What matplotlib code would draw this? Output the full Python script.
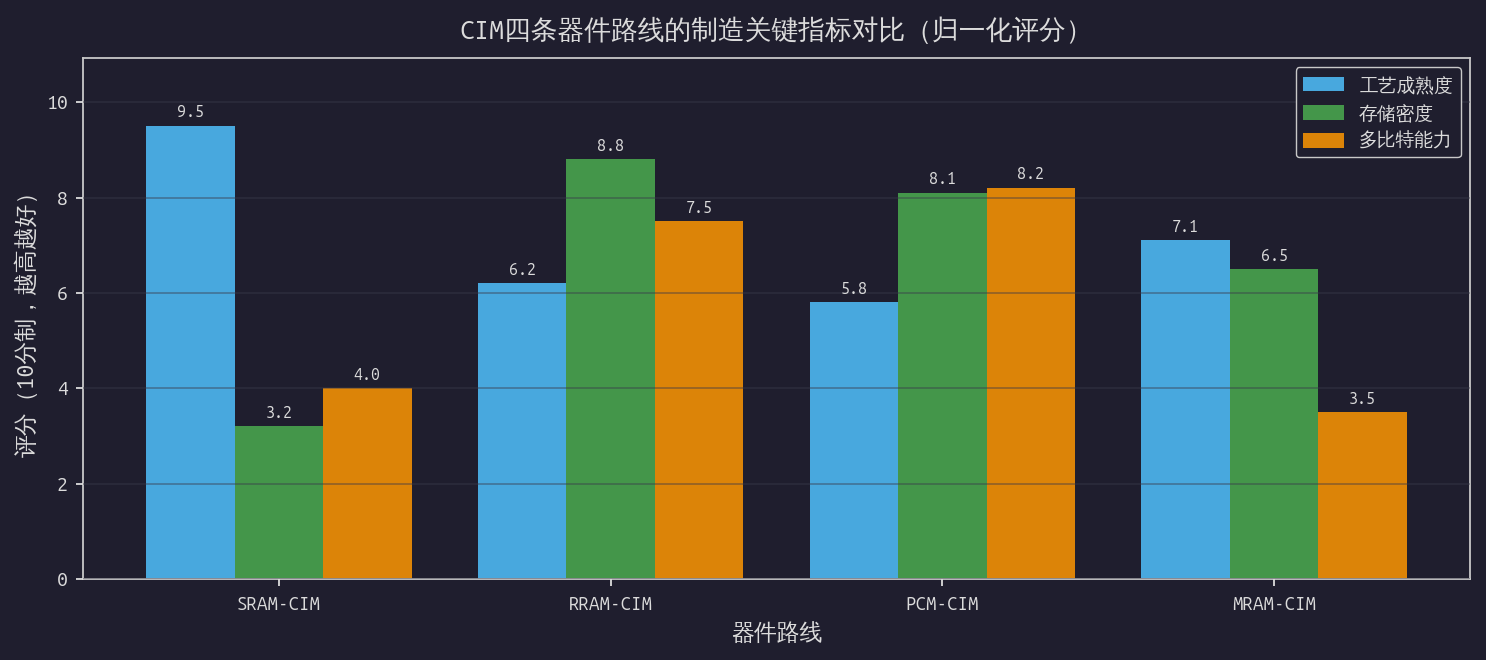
import matplotlib
matplotlib.use("Agg")
import matplotlib.pyplot as plt
import numpy as np

plt.rcParams['font.family'] = ['Ubuntu Mono', 'WenQuanYi Zen Hei', 'DejaVu Sans']
plt.rcParams['axes.unicode_minus'] = False

categories = ["SRAM-CIM", "RRAM-CIM", "PCM-CIM", "MRAM-CIM"]
series_names = ["工艺成熟度", "存储密度", "多比特能力"]
maturity = [9.5, 6.2, 5.8, 7.1]
density = [3.2, 8.8, 8.1, 6.5]
multibit = [4.0, 7.5, 8.2, 3.5]
colors = ["#48a8de", "#44964a", "#dc8408"]

bg = "#1f1e2e"
txt = "#dcdcdc"

fig = plt.figure(figsize=(14.86, 6.6), dpi=100, facecolor=bg)
ax = fig.add_axes([0.0559, 0.1227, 0.9333, 0.7893], facecolor=bg)

x = np.arange(len(categories))
w = 0.8 / 3
for i, (vals, name, c) in enumerate(zip([maturity, density, multibit], series_names, colors)):
    bars = ax.bar(x + (i - 1) * w, vals, w, label=name, color=c, zorder=1)
    for b, v in zip(bars, vals):
        ax.annotate(f"{v:.1f}", (b.get_x() + b.get_width() / 2, v), xytext=(0, 4),
                    textcoords="offset points", ha="center", va="bottom", fontsize=11.5, color=txt)

ax.set_ylim(0, 10.925)
ax.set_xticks(x)
ax.set_xticklabels(categories)
ax.grid(axis="y", color="#3a3a4a", alpha=0.45, linewidth=1.3, zorder=2)
ax.set_axisbelow(False)
ax.tick_params(colors=txt, labelsize=14, width=1.3, length=5, pad=6)
ax.tick_params(axis="x", labelsize=13.5, pad=7)
for s in ax.spines.values():
    s.set_color("#c8c8c8")
    s.set_linewidth(1.3)

ax.set_xlabel("器件路线", fontsize=16.5, color=txt, labelpad=7)
ax.set_ylabel("评分（10分制，越高越好）", fontsize=16.5, color=txt, labelpad=6)
ax.set_title("CIM四条器件路线的制造关键指标对比（归一化评分）", fontsize=19.3, color=txt, pad=14)

leg = ax.legend(loc="upper right", fontsize=13.5, facecolor=bg, edgecolor="#c8c8c8", labelcolor=txt,
                framealpha=1, handlelength=2.2, handleheight=0.8)

fig.savefig("out.png", dpi=100, facecolor=bg)
